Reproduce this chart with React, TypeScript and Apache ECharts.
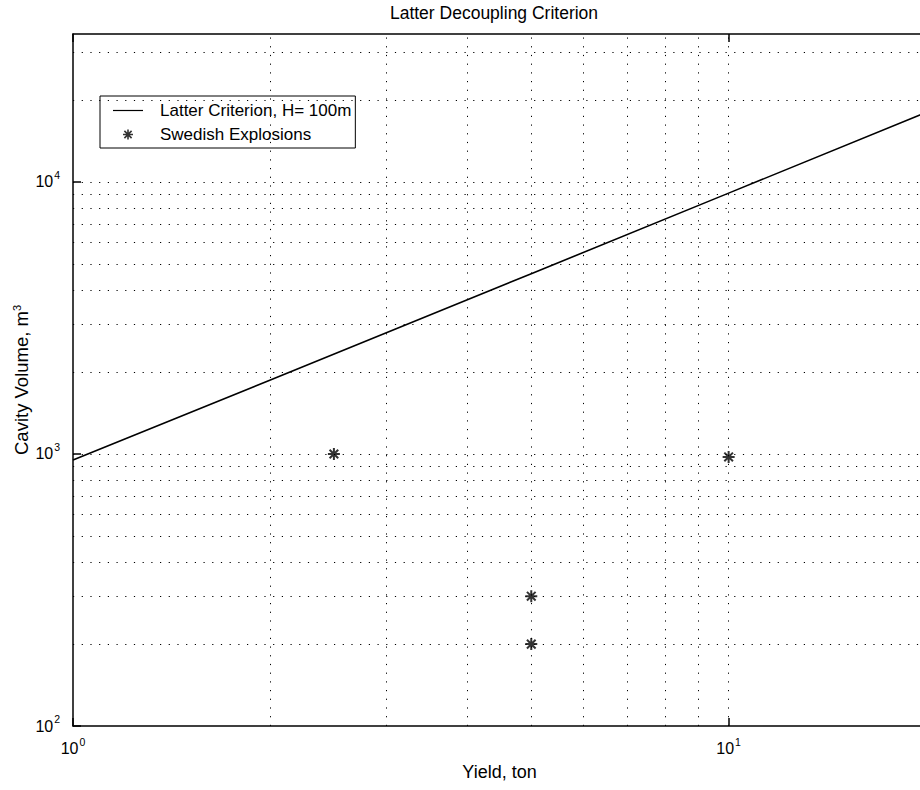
import React, { useEffect, useRef } from "react";
import * as echarts from "echarts";

const titleText = "Latter Decoupling Criterion";
const xAxisTitle = "Yield, ton";
const yAxisTitle = "Cavity Volume, m{s|3}";
const lineName = "Latter Criterion, H= 100m";
const starName = "Swedish Explosions";

const xRange = [1, 20];
const yRange = [100, 35000];
const xGridValues = [2, 3, 4, 5, 6, 7, 8, 9, 10];
const yGridValues = [
  200, 300, 400, 500, 600, 700, 800, 900, 1000,
  2000, 3000, 4000, 5000, 6000, 7000, 8000, 9000, 10000,
  20000, 30000,
];

const criterionYield = [1, 2, 5, 10, 20];
const criterionVolume = [950, 1870, 4600, 9100, 18000];

const swedishYield = [2.5, 5, 5, 10];
const swedishVolume = [1000, 300, 200, 975];

const FONT = "'Liberation Sans', Arial, Helvetica, sans-serif";
const STAR = "path://M0,-5L0,5M-5,0L5,0M-3.6,-3.6L3.6,3.6M-3.6,3.6L3.6,-3.6";
const LINE_ICON = "path://M0,0L30,0L30,1.2L0,1.2Z";

const powLabel = (v: number) => {
  const e = Math.log10(v);
  if (Math.abs(e - Math.round(e)) > 1e-6) return "";
  return `{b|10}{s|${Math.round(e)}}`;
};

const labelRich = {
  b: { fontSize: 16, fontFamily: FONT, color: "#000" },
  s: { fontSize: 10.5, fontFamily: FONT, color: "#000", padding: [0, 0, 14, 1] },
};

export default function App() {
  const ref = useRef<HTMLDivElement>(null);
  useEffect(() => {
    if (!ref.current) return;
    const chart = echarts.init(ref.current, undefined, { renderer: "svg" });
    const dotted = { color: "#000", width: 1, type: [1.2, 7.5] as any };
    const axisBase = {
      type: "log",
      logBase: 10,
      min: xRange[0],
      max: xRange[1],
      axisLine: { show: true, lineStyle: { color: "#000", width: 1.5 } },
      axisTick: { show: true, inside: true, length: 8, lineStyle: { color: "#000", width: 1.5 } },
      splitLine: { show: false },
    };
    chart.setOption({
      animation: false,
      backgroundColor: "#fff",
      title: {
        text: titleText,
        left: 494,
        top: 4,
        padding: 0,
        textAlign: "center",
        textStyle: { fontSize: 17.5, fontWeight: "normal", fontFamily: FONT, color: "#000" },
      },
      grid: {
        left: 73,
        right: 14,
        top: 34,
        bottom: 64,
        show: false,
      },
      legend: {
        left: 100,
        top: 96,
        orient: "vertical",
        backgroundColor: "#fff",
        borderColor: "#000",
        borderWidth: 1,
        borderRadius: 0,
        padding: [6, 4, 5, 13],
        itemWidth: 30,
        itemHeight: 10,
        itemGap: 7,
        textStyle: { fontSize: 17, fontFamily: FONT, color: "#000", lineHeight: 16, padding: [0, 0, 0, 12] },
        data: [
          { name: lineName, icon: LINE_ICON, itemStyle: { color: "#000", borderWidth: 0 } },
          { name: starName, icon: STAR, itemStyle: { color: "#000", borderColor: "#000", borderWidth: 1.6 } },
        ],
        selectedMode: false,
      },
      xAxis: [
        {
          ...axisBase,
          position: "bottom",
          name: xAxisTitle,
          nameLocation: "middle",
          nameGap: 37,
          nameTextStyle: { fontSize: 18, fontFamily: FONT, color: "#000" },
          axisLabel: { margin: 10, formatter: powLabel, rich: labelRich, showMaxLabel: false },
        },
        {
          ...axisBase,
          position: "top",
          axisLabel: { show: false },
        },
      ],
      yAxis: {
        type: "log",
        logBase: 10,
        min: yRange[0],
        max: yRange[1],
        name: yAxisTitle,
        nameLocation: "middle",
        nameGap: 41,
        nameMoveOverlap: false,
        nameRotate: 90,
        nameTextStyle: {
          fontSize: 18.5,
          fontFamily: FONT,
          color: "#000",
          rich: { s: { fontSize: 11, fontFamily: FONT, color: "#000", padding: [0, 0, 10, 0] } },
        },
        axisLine: { show: true, lineStyle: { color: "#000", width: 1.5 } },
        axisTick: { show: true, inside: true, length: 8, lineStyle: { color: "#000", width: 1.5 } },
        axisLabel: { margin: 13, formatter: powLabel, rich: labelRich, showMaxLabel: false },
        splitLine: { show: false },
      },
      series: [
        {
          name: "grid",
          type: "line",
          data: [],
          z: 1,
          silent: true,
          markLine: {
            silent: true,
            symbol: ["none", "none"],
            label: { show: false },
            lineStyle: dotted,
            emphasis: { disabled: true },
            animation: false,
            data: [
              ...xGridValues.map((v) => ({ xAxis: v })),
              ...yGridValues.map((v) => ({ yAxis: v })),
            ],
          },
        },
        {
          name: lineName,
          type: "line",
          z: 3,
          symbol: "none",
          lineStyle: { color: "#000", width: 1.6 },
          itemStyle: { color: "#000" },
          data: criterionYield.map((x, i) => [x, criterionVolume[i]]),
        },
        {
          name: starName,
          type: "scatter",
          z: 4,
          symbol: STAR,
          symbolSize: 12,
          itemStyle: { color: "#000", borderColor: "#000", borderWidth: 2 },
          data: swedishYield.map((x, i) => [x, swedishVolume[i]]),
        },
      ],
    });
    return () => chart.dispose();
  }, []);
  return (
    <div
      ref={ref}
      style={{ position: "fixed", left: 0, top: 0, width: 940, height: 790, background: "#fff" }}
    />
  );
}
